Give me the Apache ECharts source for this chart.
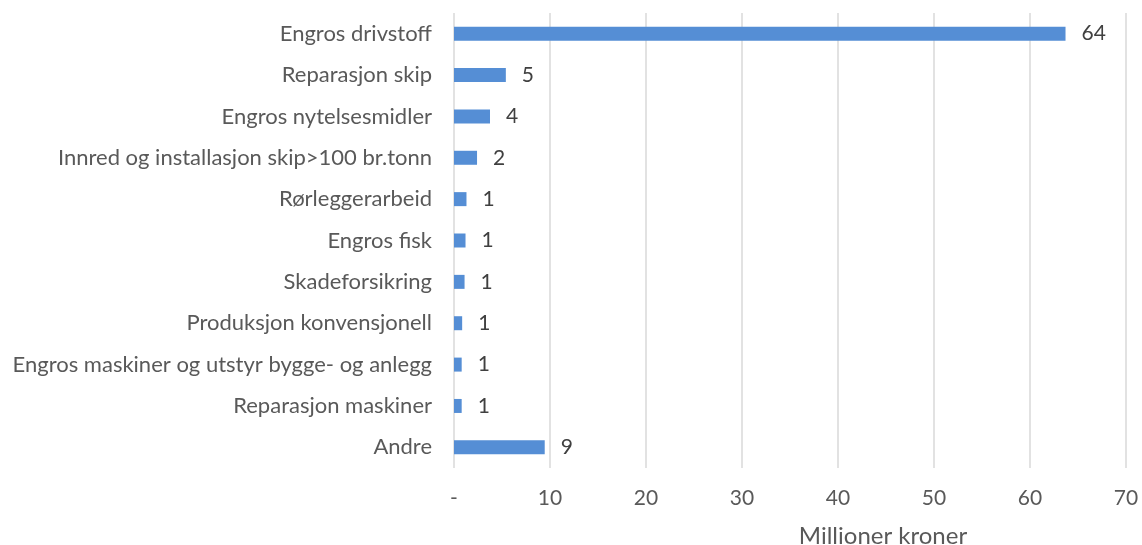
<!DOCTYPE html>
<html><head><meta charset="utf-8">
<script src="https://cdn.jsdelivr.net/npm/echarts@6/dist/echarts.min.js"></script>
<style>html,body{margin:0;padding:0;background:#fff}#c{width:1142px;height:545px}</style>
</head><body><div id="c"></div>
<script>
const categories = ["Engros drivstoff","Reparasjon skip","Engros nytelsesmidler","Innred og installasjon skip>100 br.tonn","Rørleggerarbeid","Engros fisk","Skadeforsikring","Produksjon konvensjonell","Engros maskiner og utstyr bygge- og anlegg","Reparasjon maskiner","Andre"];
const values = [63.7, 5.4, 3.75, 2.4, 1.3, 1.2, 1.1, 0.85, 0.8, 0.8, 9.45];
const axisTitle = "Millioner kroner";
const font = "Lato";
const chart = echarts.init(document.getElementById('c'));
chart.setOption({
  animation:false,
  grid:{left:454,right:16,top:13,bottom:77,containLabel:false,outerBoundsMode:'none'},
  xAxis:{type:'value',min:0,max:70,interval:10,
    axisLine:{show:false},axisTick:{show:false},
    splitLine:{show:true,lineStyle:{color:'#d9d9d9',width:1.5}},
    axisLabel:{color:'#595959',fontSize:21,fontFamily:font,margin:20,
      formatter:v=>v===0?'-':String(v)},
    name:axisTitle,nameLocation:'middle',nameGap:56,
    nameTextStyle:{color:'#595959',fontSize:24,fontFamily:font,padding:[0,0,0,186]}},
  yAxis:{type:'category',data:categories,inverse:true,
    axisLine:{show:false},axisTick:{show:false},
    axisLabel:{color:'#595959',fontSize:22,fontFamily:font,margin:22}},
  series:[{type:'bar',data:values,barWidth:14,
    itemStyle:{color:'#558ed5'},
    label:{show:true,position:'right',distance:16,color:'#404040',fontSize:21,fontFamily:font,
      formatter:p=>String(Math.round(p.value))}}]
});
</script></body></html>
